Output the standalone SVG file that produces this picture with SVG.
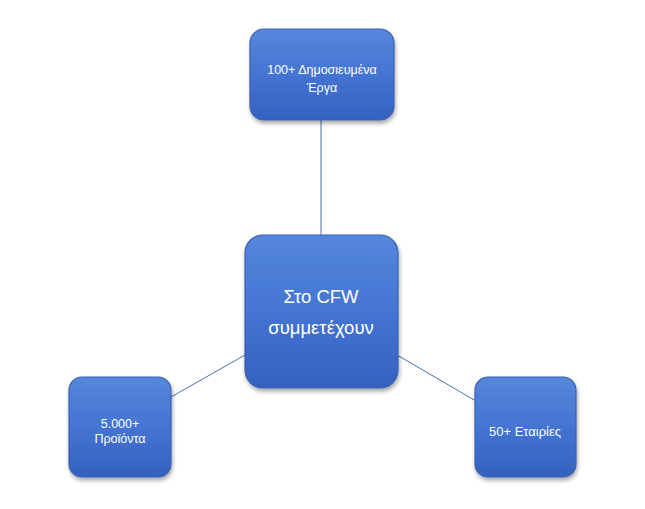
<svg xmlns="http://www.w3.org/2000/svg" width="645" height="509" viewBox="0 0 645 509">
<defs>
<linearGradient id="g" x1="0" y1="0" x2="0" y2="1">
<stop offset="0" stop-color="#5587dc"/>
<stop offset="0.5" stop-color="#4574d2"/>
<stop offset="1" stop-color="#3461c0"/>
</linearGradient>
<filter id="sh" x="-10%" y="-10%" width="130%" height="130%">
<feGaussianBlur in="SourceAlpha" stdDeviation="2"/>
<feOffset dx="1" dy="3"/>
<feComponentTransfer><feFuncA type="linear" slope="0.35"/></feComponentTransfer>
<feMerge><feMergeNode/><feMergeNode in="SourceGraphic"/></feMerge>
</filter>
</defs>
<style>
.box{fill:url(#g);stroke:#3a62ad;stroke-width:1.2;filter:url(#sh)}
.t{fill:#ffffff;font-family:"Liberation Sans",Arial,sans-serif;text-anchor:middle}
.c{stroke:#4a6fb5;stroke-width:1;fill:none}
</style>
<rect width="645" height="509" fill="#ffffff"/>
<g id="connectors">
<line class="c" x1="321" y1="120" x2="321" y2="236"/>
<line class="c" x1="171" y1="397" x2="245" y2="355"/>
<line class="c" x1="397" y1="355" x2="476" y2="401"/>
</g>
<g id="top">
<rect class="box" x="250" y="29" width="144" height="91" rx="14"/>
<text class="t" x="322" y="74" font-size="12.5">100+ Δημοσιευμένα</text>
<text class="t" x="322" y="92" font-size="12.5">Έργα</text>
</g>
<g id="center">
<rect class="box" x="245" y="235" width="153" height="153" rx="18"/>
<text class="t" x="321" y="303" font-size="18.5">Στο CFW</text>
<text class="t" x="321" y="334" font-size="18.5">συμμετέχουν</text>
</g>
<g id="left">
<rect class="box" x="69" y="377" width="102" height="100" rx="13"/>
<text class="t" x="120" y="428" font-size="12.5">5.000+</text>
<text class="t" x="120" y="443" font-size="12.5">Προϊόντα</text>
</g>
<g id="right">
<rect class="box" x="475" y="377" width="101" height="100" rx="13"/>
<text class="t" x="525" y="436" font-size="13">50+ Εταιρίες</text>
</g>
</svg>
